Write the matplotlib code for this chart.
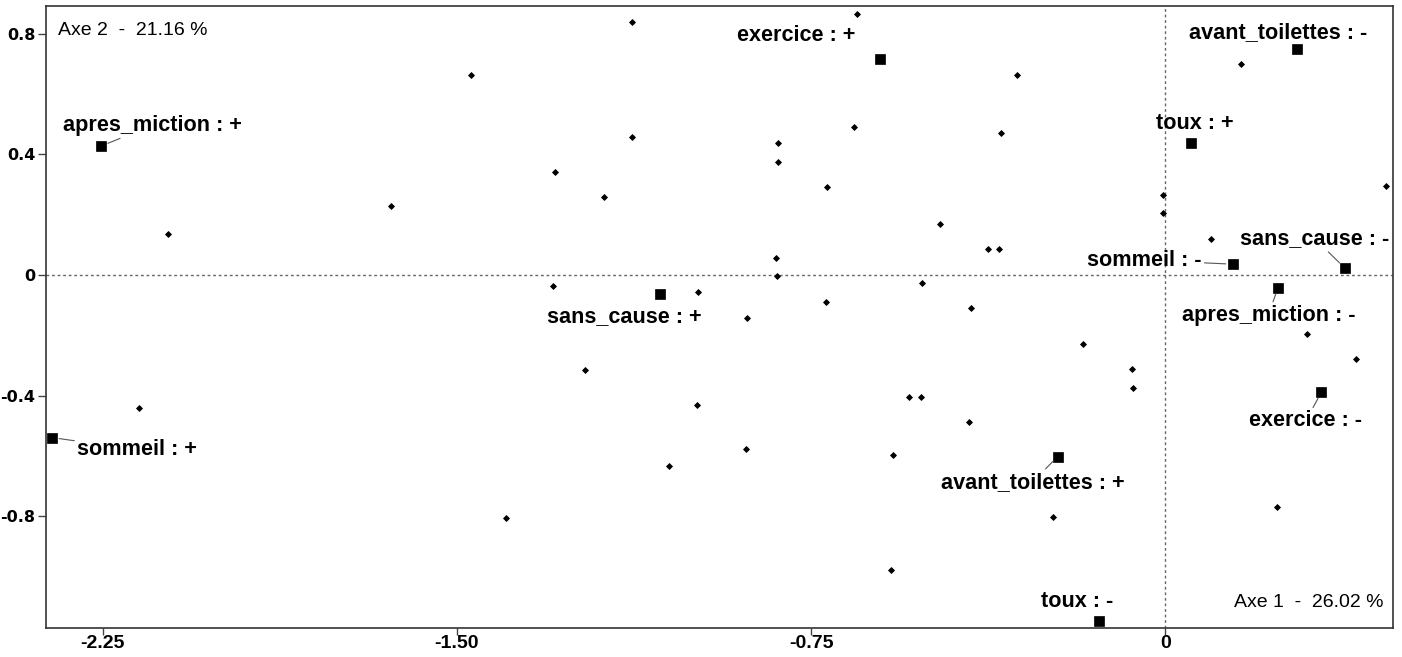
import matplotlib.pyplot as plt

# individus (petits losanges)
ind_x = [-1.129, -0.653, -1.470, -0.314, 0.161, -1.129, -0.820, -0.659, -0.347, -0.821,
         -1.293, -0.716, -1.189, -1.640, -2.112, 0.468, -0.005, -0.004, -0.477, 0.098,
         -0.376, -0.351, -0.824, -0.822, -0.515, -1.297, -0.989, -0.719, -0.411, -0.885,
         0.300, -0.173, 0.404, -1.229, -0.070, -0.068, -0.542, -0.518, -0.992, -2.174,
         -0.415, -0.888, -0.576, -1.051, -0.237, -1.396, 0.237, -0.581]
ind_y = [0.839, 0.867, 0.663, 0.663, 0.698, 0.457, 0.438, 0.491, 0.471, 0.376,
         0.341, 0.292, 0.260, 0.229, 0.136, 0.296, 0.265, 0.205, 0.170, 0.118,
         0.087, 0.087, 0.057, -0.003, -0.026, -0.036, -0.055, -0.089, -0.108, -0.142,
         -0.196, -0.227, -0.278, -0.315, -0.313, -0.374, -0.404, -0.404, -0.431, -0.441,
         -0.487, -0.577, -0.597, -0.633, -0.803, -0.805, -0.769, -0.978]

# modalites (carres)
mod_labels = ['apres_miction : +', 'sommeil : +', 'sans_cause : +', 'exercice : +',
              'avant_toilettes : -', 'toux : +', 'sommeil : -', 'sans_cause : -',
              'apres_miction : -', 'exercice : -', 'avant_toilettes : +', 'toux : -']
mod_x = [-2.253, -2.357, -1.070, -0.604, 0.279, 0.054, 0.143, 0.380, 0.239, 0.331, -0.228, -0.141]
mod_y = [0.428, -0.539, -0.064, 0.715, 0.749, 0.437, 0.036, 0.024, -0.042, -0.388, -0.602, -1.147]

x_ticks = [-2.25, -1.50, -0.75, 0]
x_tick_labels = ['-2.25', '-1.50', '-0.75', '0']
y_ticks = [0.8, 0.4, 0, -0.4, -0.8]
y_tick_labels = ['0.8', '0.4', '0', '-0.4', '-0.8']

axe1_text = 'Axe 1  -  26.02 %'
axe2_text = 'Axe 2  -  21.16 %'

# placement des etiquettes (decalage en points) et trait de rappel
label_offsets = [(37, 15), (61, -8.5), (-25.5, -16), (-60, 17.5), (-13.5, 12), (3, 14.4),
                 (-63.5, 3), (-21.5, 21), (-7, -19.7), (-11.3, -20.7), (-18, -18.4), (-15.5, 14)]
leader = [True, True, False, False, False, False, True, True, True, True, True, False]

fig = plt.figure(figsize=(14.02, 6.57), dpi=100)
ax = fig.add_axes([0.0326, 0.0437, 0.9608, 0.9472])

ax.set_xlim(-2.371, 0.482)
ax.set_ylim(-1.171, 0.892)

ax.axhline(0, color='#666666', lw=1, ls=(0, (2, 2)), zorder=1)
ax.axvline(0, color='#666666', lw=1, ls=(0, (2, 2)), zorder=1)

ax.plot(ind_x, ind_y, 'D', color='black', ms=3.0, mew=0.6, zorder=3)
ax.plot(mod_x, mod_y, 's', color='black', ms=7.4, mew=0.5, zorder=4)

for lab, x, y, off, ld in zip(mod_labels, mod_x, mod_y, label_offsets, leader):
    arrow = dict(arrowstyle='-', color='#555555', lw=0.8, shrinkA=0, shrinkB=5) if ld else None
    ax.annotate(lab, xy=(x, y), xytext=off, textcoords='offset points',
                ha='center', va='center', fontsize=15.6, fontweight='bold',
                family='Liberation Sans', arrowprops=arrow, zorder=5)

ax.set_xticks(x_ticks)
ax.set_xticklabels(x_tick_labels, family='Liberation Sans', fontsize=14, fontweight='bold')
ax.set_yticks(y_ticks)
ax.set_yticklabels(y_tick_labels, family='DejaVu Sans', fontsize=11.5, fontweight='bold')
ax.tick_params(axis='x', direction='out', length=5, width=1, color='#444444', pad=0)
ax.tick_params(axis='y', direction='out', length=6, width=1, color='#444444', pad=1.5)

for s in ax.spines.values():
    s.set_color('#333333')
    s.set_linewidth(1.2)

ax.text(0.009, 0.975, axe2_text, transform=ax.transAxes, ha='left', va='top',
        fontsize=14, family='Liberation Sans')
ax.text(0.993, 0.027, axe1_text, transform=ax.transAxes, ha='right', va='bottom',
        fontsize=14, family='Liberation Sans')

fig.savefig('out.png', dpi=100)
